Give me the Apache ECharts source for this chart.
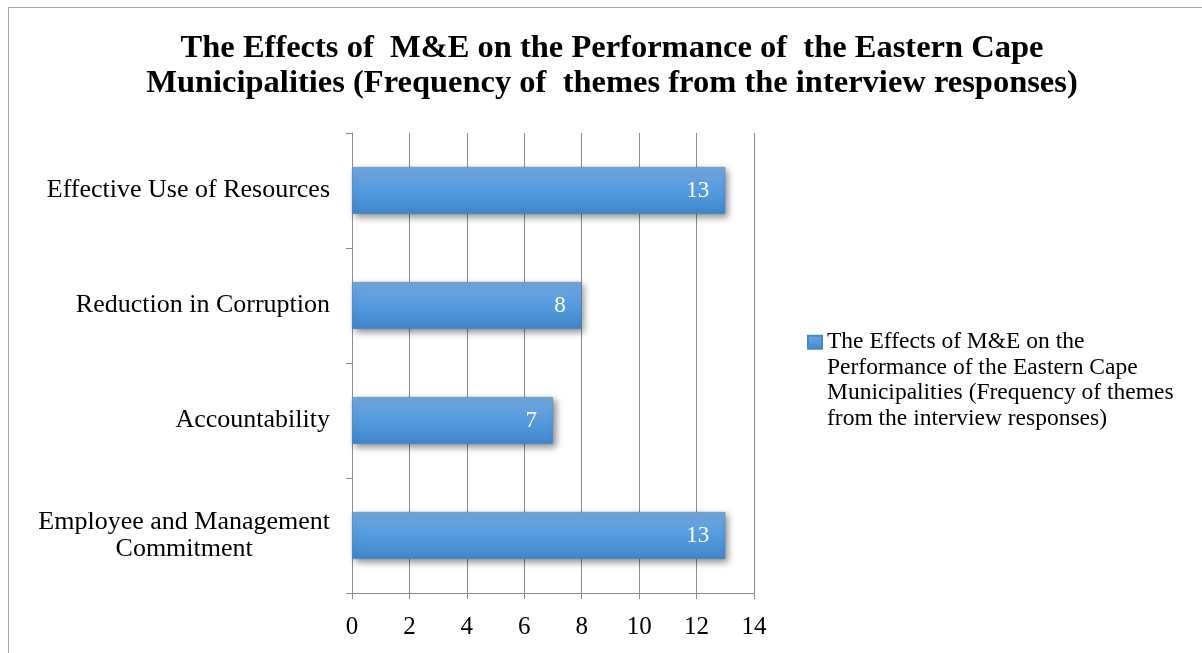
<!DOCTYPE html>
<html>
<head>
<meta charset="utf-8">
<script src="https://cdn.jsdelivr.net/npm/echarts@6/dist/echarts.min.js"></script>
<style>
  html, body { margin: 0; padding: 0; background: #fff; }
  #chart { width: 1202px; height: 653px; }
</style>
</head>
<body>
<div id="chart"></div>
<script>
  const categories = [
    'Employee and Management\nCommitment',
    'Accountability',
    'Reduction in Corruption',
    'Effective Use of Resources',
  ];
  const frequencies = [13, 7, 8, 13];
  const seriesName =
    'The Effects of M&E on the\nPerformance of the Eastern Cape\nMunicipalities (Frequency of themes\nfrom the interview responses)';
  const titleText =
    'The Effects of  M&E on the Performance of  the Eastern Cape\nMunicipalities (Frequency of  themes from the interview responses)';

  const serif = '"Liberation Serif", "DejaVu Serif", serif';

  const chart = echarts.init(document.getElementById('chart'));
  chart.setOption({
    animation: false,
    textStyle: { fontFamily: serif, color: '#000' },
    title: {
      text: titleText,
      left: 607,
      top: 26,
      textAlign: 'center',
      textStyle: {
        fontFamily: serif,
        fontSize: 32.5,
        fontWeight: 'bold',
        lineHeight: 35,
        color: '#000',
      },
    },
    graphic: [
      {
        type: 'rect',
        shape: { x: 8.5, y: 7.5, width: 1300, height: 800 },
        style: { fill: 'none', stroke: '#a6a6a6', lineWidth: 1 },
        silent: true,
      },
    ],
    legend: {
      left: 807,
      top: 253,
      padding: 0,
      orient: 'vertical',
      icon: 'rect',
      itemWidth: 14,
      itemHeight: 13,
      // blank lines above keep the marker beside the first line of the name
      formatter: (name) => '\n\n\n' + name,
      textStyle: {
        fontFamily: serif,
        fontSize: 23.5,
        lineHeight: 25.5,
        color: '#000',
      },
    },
    grid: {
      left: 352,
      right: 448,
      top: 133,
      bottom: 60,
    },
    xAxis: {
      type: 'value',
      min: 0,
      max: 14,
      interval: 2,
      axisLine: { show: true, lineStyle: { color: '#8c8c8c' } },
      axisTick: { show: true, length: 6, lineStyle: { color: '#8c8c8c' } },
      splitLine: { show: true, lineStyle: { color: '#8c8c8c', width: 1 } },
      axisLabel: { fontFamily: serif, fontSize: 25, color: '#000', margin: 22 },
    },
    yAxis: {
      type: 'category',
      data: categories,
      axisLine: { show: true, lineStyle: { color: '#8c8c8c' } },
      axisTick: { show: true, length: 6, lineStyle: { color: '#8c8c8c' } },
      axisLabel: {
        margin: 22,
        formatter: (v) => v.split('\n').map((s) => '{c|' + s + '}').join('\n'),
        rich: {
          c: {
            fontFamily: serif,
            fontSize: 26,
            lineHeight: 27,
            color: '#000',
            align: 'center',
          },
        },
      },
    },
    series: [
      {
        name: seriesName,
        type: 'bar',
        data: frequencies,
        barWidth: 47,
        itemStyle: {
          color: new echarts.graphic.LinearGradient(0, 0, 0, 1, [
            { offset: 0, color: '#72a7dd' },
            { offset: 0.5, color: '#559be0' },
            { offset: 1, color: '#3f86ca' },
          ]),
          borderColor: '#4a87c4',
          borderWidth: 0.5,
          shadowColor: 'rgba(0,0,0,0.45)',
          shadowBlur: 7,
          shadowOffsetX: 3,
          shadowOffsetY: 3,
        },
        label: {
          show: true,
          position: 'insideRight',
          distance: 16,
          color: '#fff',
          fontFamily: serif,
          fontSize: 23,
        },
      },
    ],
  });
</script>
</body>
</html>
